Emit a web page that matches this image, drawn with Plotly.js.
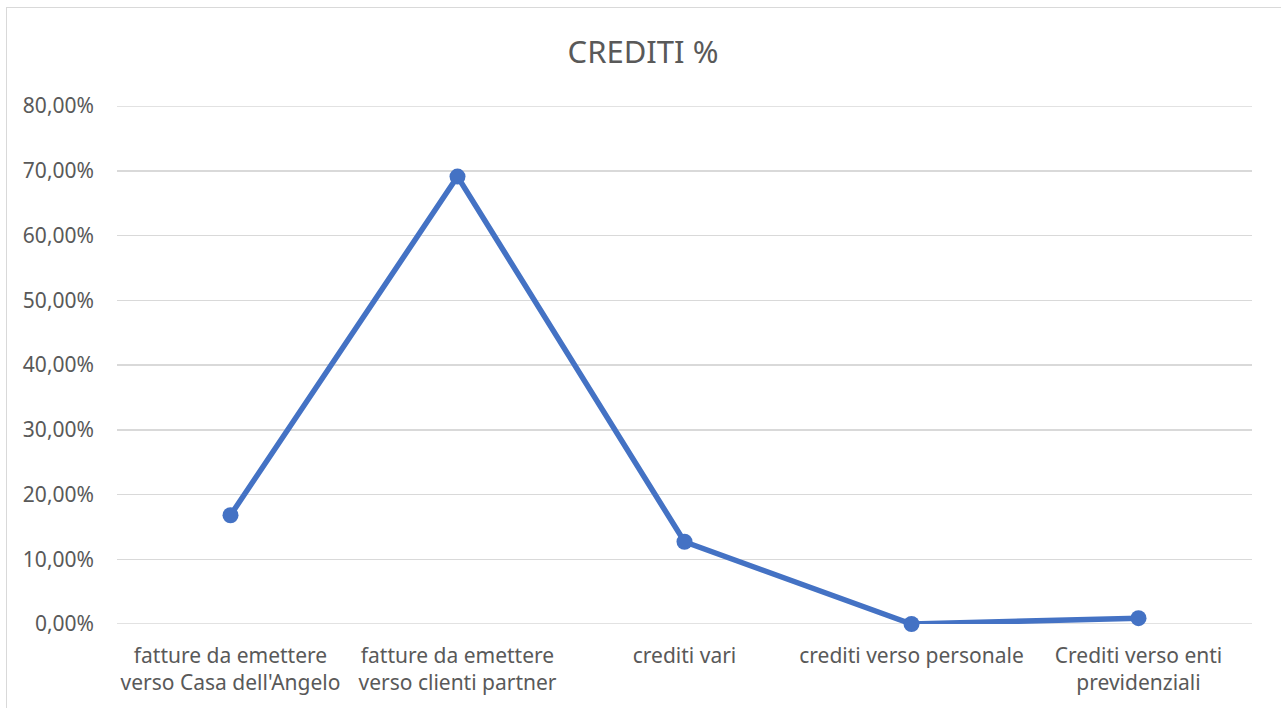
<!DOCTYPE html>
<html>
<head>
<meta charset="utf-8">
<script src="https://cdn.plot.ly/plotly-3.0.1.min.js"></script>
<style>
html,body{margin:0;padding:0;background:#fff;overflow:hidden;}
#wrap{position:relative;width:1281px;height:708px;}
#chart{position:absolute;left:0;top:0;width:1281px;height:708px;}
#frame{position:absolute;left:6px;top:7px;width:1300px;height:720px;border:1px solid #d9d9d9;pointer-events:none;}
</style>
</head>
<body>
<div id="wrap"><div id="chart"></div><div id="frame"></div></div>
<script>
const categories = [
  "fatture da emettere<br>verso Casa dell'Angelo",
  "fatture da emettere<br>verso clienti partner",
  "crediti vari",
  "crediti verso personale",
  "Crediti verso enti<br>previdenziali"
];
const values = [0.168, 0.691, 0.127, 0.000, 0.009];
const yTicks = [0, 0.1, 0.2, 0.3, 0.4, 0.5, 0.6, 0.7, 0.8];

const trace = {
  type: 'scatter',
  mode: 'lines+markers',
  x: categories,
  y: values,
  line: {color: '#4472C4', width: 5.5},
  marker: {color: '#4472C4', size: 16},
  cliponaxis: false,
  hoverinfo: 'skip'
};

const edgeLines = [yTicks[0], yTicks[yTicks.length - 1]].map(v => ({
  type: 'line', xref: 'paper', yref: 'y', x0: 0, x1: 1, y0: v, y1: v,
  layer: 'below', line: {color: '#d9d9d9', width: 1.5}
}));

const layout = {
  width: 1281, height: 708,
  paper_bgcolor: 'rgba(0,0,0,0)', plot_bgcolor: 'rgba(0,0,0,0)',
  separators: ',.',
  margin: {l: 117, r: 29, t: 106, b: 84},
  showlegend: false,
  font: {family: 'Noto Sans, sans-serif', color: '#595959'},
  title: {text: 'CREDITI %', x: 643/1281, xref: 'container', xanchor: 'center',
          y: 1 - 52/708, yref: 'container', yanchor: 'middle',
          font: {family: 'Noto Sans, sans-serif', size: 31, color: '#595959'}},
  xaxis: {
    type: 'category', range: [-0.5, 4.5], showgrid: false, zeroline: false,
    showline: false, ticks: '', tickangle: 0,
    tickfont: {size: 21, color: '#595959'}, ticklabelstandoff: 17, fixedrange: true
  },
  yaxis: {
    range: [0, 0.8], tickvals: yTicks, tickformat: '.2%',
    showgrid: true, gridcolor: '#d9d9d9', gridwidth: 1.5, zeroline: false,
    showline: false, ticks: '',
    tickfont: {size: 21, color: '#595959'}, ticklabelstandoff: 22, fixedrange: true
  },
  shapes: edgeLines
};

Plotly.newPlot('chart', [trace], layout, {displayModeBar: false, staticPlot: true});
</script>
</body>
</html>
